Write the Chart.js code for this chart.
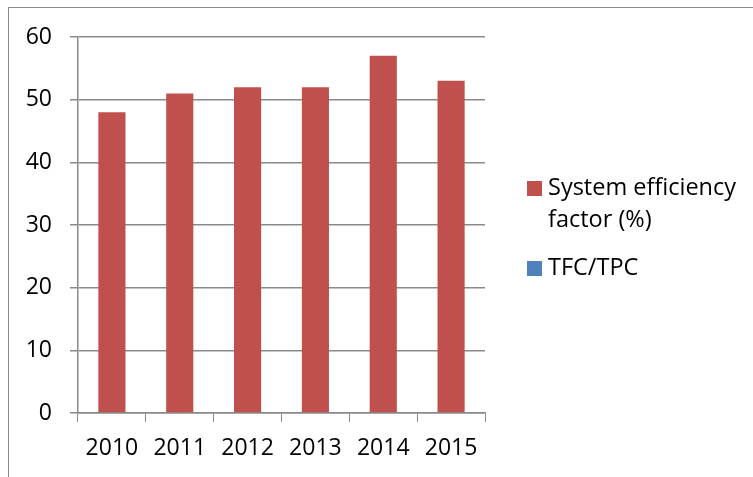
<!DOCTYPE html>
<html>
<head>
<meta charset="utf-8">
<script src="https://cdn.jsdelivr.net/npm/chart.js@4"></script>
<style>
  html, body { margin: 0; padding: 0; background: #fff; }
  #wrap { position: relative; width: 753px; height: 477px; overflow: hidden; }
  #frame { position: absolute; left: 8px; top: 7px; width: 800px; height: 520px;
           border-left: 1.5px solid #8a8a8a; border-top: 1.5px solid #8a8a8a; box-sizing: border-box; }
  canvas { position: absolute; left: 0; top: 0; }
</style>
</head>
<body>
<div id="wrap">
  <div id="frame"></div>
  <canvas id="c" width="753" height="477"></canvas>
</div>
<script>
const years = ['2010', '2011', '2012', '2013', '2014', '2015'];
const systemEfficiency = [48, 51, 52, 52, 57, 53];
const tfcTpc = [null, null, null, null, null, null];
const yTicks = [0, 10, 20, 30, 40, 50, 60];

const FONT = "'Open Sans', 'Noto Sans', sans-serif";
const AXIS_GREY = '#8a8a8a';

// Legend drawn in the right-hand margin, with wrapped labels
const sideLegend = {
  id: 'sideLegend',
  afterDraw(chart) {
    const ctx = chart.ctx;
    const items = [
      { lines: ['System efficiency', 'factor (%)'], color: chart.data.datasets[0].backgroundColor },
      { lines: [chart.data.datasets[1].label], color: chart.data.datasets[1].backgroundColor }
    ];
    const boxX = 527, textX = 548, lineH = 32;
    let y = 188;
    ctx.save();
    ctx.font = '23.5px ' + FONT;
    ctx.textBaseline = 'middle';
    items.forEach(item => {
      ctx.fillStyle = item.color;
      ctx.fillRect(boxX, y - 7, 15, 15);
      ctx.fillStyle = '#000';
      item.lines.forEach((ln, i) => ctx.fillText(ln, textX, y + i * lineH));
      y += item.lines.length * lineH + 16;
    });
    ctx.restore();
  }
};

new Chart(document.getElementById('c'), {
  type: 'bar',
  data: {
    labels: years,
    datasets: [
      { label: 'System efficiency factor (%)', data: systemEfficiency, backgroundColor: '#C0504D',
        barPercentage: 0.4, categoryPercentage: 1.0, grouped: false },
      { label: 'TFC/TPC', data: tfcTpc, backgroundColor: '#4F81BD',
        barPercentage: 0.4, categoryPercentage: 1.0, grouped: false }
    ]
  },
  options: {
    responsive: false,
    animation: false,
    layout: { padding: { top: 37, right: 268, left: 0, bottom: 0 } },
    plugins: { legend: { display: false }, tooltip: { enabled: false } },
    scales: {
      x: {
        grid: { display: true, drawOnChartArea: false, drawTicks: true, tickLength: 9, color: AXIS_GREY, offset: true },
        border: { color: AXIS_GREY, width: 1.5 },
        ticks: { color: '#000', font: { family: FONT, size: 23 }, padding: 13, maxRotation: 0 },
        afterFit(scale) { scale.height = 64; }
      },
      y: {
        min: 0, max: 60,
        afterBuildTicks(scale) { scale.ticks = yTicks.map(v => ({ value: v })); },
        grid: { color: AXIS_GREY, lineWidth: 1.5, tickLength: 8 },
        border: { color: AXIS_GREY, width: 1.5 },
        ticks: { color: '#000', font: { family: FONT, size: 23 }, padding: 18 },
        afterFit(scale) { scale.width = 78; }
      }
    }
  },
  plugins: [sideLegend]
});
</script>
</body>
</html>
